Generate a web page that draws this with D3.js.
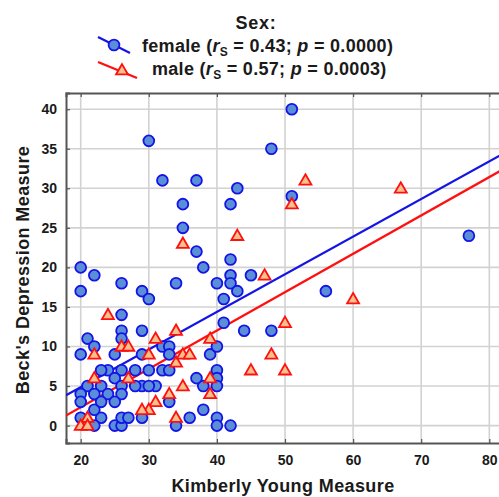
<!DOCTYPE html>
<html>
<head>
<meta charset="utf-8">
<script src="https://cdn.jsdelivr.net/npm/d3@7"></script>
<style>
  html, body { margin: 0; padding: 0; background: #fff; }
  svg { display: block; font-family: "Liberation Sans", Arial, sans-serif; }
</style>
</head>
<body>
<svg id="chart" width="499" height="497"></svg>
<script>
// ---- data ----
const femaleX = [30,51,48,32,37,35,35,37,43,42,42,20,51,77,56,48,22,26,20,29,30,34,38,42,42,40,43,45,41,26,26,29,41,44,21,22,20,25,29,32,33,33,39,40,40,40,40,38,37,31,29,33,34,36,38,40,40,42,25,26,26,27,29,23,22,20,22,26,24,26,28,30,32,33,23,21,23,25,26,28,30,20,22,24,26,20,23,25];
const femaleY = [36,40,35,31,31,28,25,22,30,28,21,20,29,24,17,12,19,18,17,17,16,18,20,19,18,18,17,19,16,14,12,12,13,12,11,10,9,9,9,10,10,9,9,10,7,6,5,5,6,5,5,3,0,1,2,1,0,0,0,0,1,1,1,1,2,1,0,11,7,7,7,7,7,7,7,5,5,6,5,5,5,4,4,4,4,3,3,3];
const maleX = [35,43,53,67,51,47,60,50,48,50,24,34,31,39,22,26,27,30,34,35,36,39,39,35,33,31,30,29,34,21,20,21,22,27,45];
const maleY = [23,24,31,30,28,19,16,13,9,7,14,12,11,11,9,10,10,9,8,9,9,6,4,5,4,3,2,2,1,1,0,0,6,6,7];
// fitted lines: [intercept, slope]
const femaleFit = [-4.67, 0.476];
const maleFit = [-7.38, 0.485];
const xTicks = [20,30,40,50,60,70,80];
const yTicks = [0,5,10,15,20,25,30,35,40];
const xDomain = [17.84, 81.57];
const yDomain = [-2.2, 42.05];
const legendTitle = "Sex:";
const legendItems = [
  {key: "female", r: "0.43", p: "0.0000"},
  {key: "male", r: "0.57", p: "0.0003"}
];
const xLabel = "Kimberly Young Measure";
const yLabel = "Beck's Depression Measure";

// ---- layout ----
const svg = d3.select("#chart");
const L = 66, T = 93, R = 500, B = 443;
const x = d3.scaleLinear().domain(xDomain).range([L, R]);
const y = d3.scaleLinear().domain(yDomain).range([B, T]);

const BLUE = "#1414e6", BLUEFILL = "#5a8fd8";
const RED = "#ff1010", REDFILL = "#f9c08a";
const INK = "#1a1a1a";

svg.append("defs").append("clipPath").attr("id", "clip")
  .append("rect").attr("x", L).attr("y", T).attr("width", R - L).attr("height", B - T);

// grid
const grid = svg.append("g");
grid.selectAll("line.vx").data(xTicks).join("line")
  .attr("x1", d => x(d)).attr("x2", d => x(d)).attr("y1", T).attr("y2", B)
  .attr("stroke", "#d2d2d2").attr("stroke-width", 1.6);
grid.selectAll("line.hy").data(yTicks).join("line")
  .attr("x1", L).attr("x2", R).attr("y1", d => y(d)).attr("y2", d => y(d))
  .attr("stroke", "#d2d2d2").attr("stroke-width", 1.6);

// axes
const xAxis = svg.append("g").attr("transform", `translate(0,${B})`)
  .call(d3.axisBottom(x).tickValues(xTicks).tickSize(-4).tickPadding(12).tickFormat(d3.format("d")));
const xAxisTop = svg.append("g").attr("transform", `translate(0,${T})`)
  .call(d3.axisTop(x).tickValues(xTicks).tickSize(-4).tickFormat(""));
const yAxis = svg.append("g").attr("transform", `translate(${L},0)`)
  .call(d3.axisLeft(y).tickValues(yTicks).tickSize(-4).tickPadding(9).tickFormat(d3.format("d")));
[xAxis, xAxisTop, yAxis].forEach(g => {
  g.select(".domain").attr("stroke", "#555").attr("stroke-width", 2);
  g.selectAll(".tick line").attr("stroke", "#555").attr("stroke-width", 1.2);
  g.selectAll(".tick text").attr("fill", INK).style("font-size", "14px").style("font-weight", "bold");
});

// regression lines
const plot = svg.append("g").attr("clip-path", "url(#clip)");
const fitLine = (fit) => d3.line()(xDomain.map(v => [x(v), y(fit[0] + fit[1] * v)]));
plot.append("path").attr("d", fitLine(femaleFit)).attr("stroke", BLUE).attr("stroke-width", 2.2).attr("fill", "none");
plot.append("path").attr("d", fitLine(maleFit)).attr("stroke", RED).attr("stroke-width", 2.2).attr("fill", "none");

// markers
const female = femaleX.map((v, i) => [v, femaleY[i]]);
const male = maleX.map((v, i) => [v, maleY[i]]);
const triPath = d3.symbol().type(d3.symbolTriangle).size(62);
svg.append("g").selectAll("circle").data(female).join("circle")
  .attr("cx", d => x(d[0])).attr("cy", d => y(d[1])).attr("r", 5.4)
  .attr("fill", BLUEFILL).attr("stroke", BLUE).attr("stroke-width", 1.8);
svg.append("g").selectAll("path").data(male).join("path")
  .attr("d", triPath).attr("transform", d => `translate(${x(d[0])},${y(d[1]) + 0.8})`)
  .attr("fill", REDFILL).attr("stroke", RED).attr("stroke-width", 1.8);

// axis titles
svg.append("text").attr("x", 283).attr("y", 492).attr("text-anchor", "middle")
  .style("font-size", "18px").style("font-weight", "bold").style("letter-spacing", "0.4px")
  .attr("fill", INK).text(xLabel);
svg.append("text").attr("transform", `translate(29,${(T + B) / 2 + 2}) rotate(-90)`).attr("text-anchor", "middle")
  .style("font-size", "18px").style("font-weight", "bold").style("letter-spacing", "0.4px")
  .attr("fill", INK).text(yLabel);

// legend
const lg = svg.append("g");
lg.append("text").attr("x", 256).attr("y", 29).attr("text-anchor", "middle")
  .style("font-size", "18px").style("font-weight", "bold").style("letter-spacing", "0.8px")
  .attr("fill", INK).text(legendTitle);
const rows = [
  {item: legendItems[0], ty: 52, tx: 142},
  {item: legendItems[1], ty: 75, tx: 152}
];
// symbols
lg.append("line").attr("x1", 98).attr("y1", 37).attr("x2", 130).attr("y2", 53).attr("stroke", BLUE).attr("stroke-width", 2.2);
lg.append("circle").attr("cx", 114).attr("cy", 45).attr("r", 5.4).attr("fill", BLUEFILL).attr("stroke", BLUE).attr("stroke-width", 1.8);
lg.append("line").attr("x1", 98).attr("y1", 62).attr("x2", 137).attr("y2", 78).attr("stroke", RED).attr("stroke-width", 2.2);
lg.append("path").attr("d", triPath).attr("transform", "translate(122,71)").attr("fill", REDFILL).attr("stroke", RED).attr("stroke-width", 1.8);
rows.forEach(r => {
  const t = lg.append("text").attr("x", r.tx).attr("y", r.ty)
    .style("font-size", "18px").style("font-weight", "bold").style("letter-spacing", "0.3px")
    .attr("fill", INK);
  t.append("tspan").text(r.item.key + " (");
  t.append("tspan").style("font-style", "italic").text("r");
  t.append("tspan").attr("dy", 4).style("font-size", "12px").text("S");
  t.append("tspan").attr("dy", -4).text(" = " + r.item.r + "; ");
  t.append("tspan").style("font-style", "italic").text("p");
  t.append("tspan").text(" = " + r.item.p + ")");
});
</script>
</body>
</html>
